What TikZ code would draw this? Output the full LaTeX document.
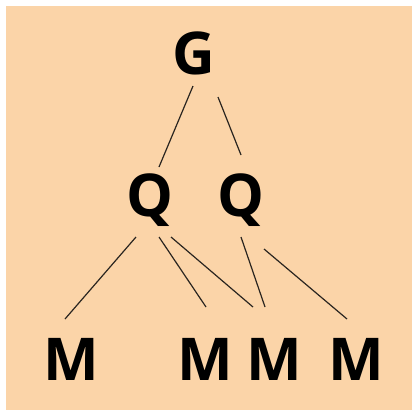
\documentclass[tikz,border=0pt]{standalone}
\usepackage{fontspec}
\setmainfont{Open Sans}
\definecolor{peach}{HTML}{FBD4A8}
\definecolor{linegray}{HTML}{2A2520}
\tikzset{
  letter/.style={anchor=base, inner sep=0pt, font=\fontsize{59}{59}\selectfont\bfseries},
  edge/.style={draw=linegray, line width=1.2pt}
}
\begin{document}
\begin{tikzpicture}[x=1pt, y=-1pt]
\useasboundingbox (0,0) rectangle (412,410);
\fill[peach] (6,6) rectangle (412,410);
\node[letter] (G) at (194,74) {G};
\node[letter] (Q1) at (150,216) {Q};
\node[letter] (Q2) at (241,216) {Q};
\node[letter] (M1) at (71,380) {M};
\node[letter] (M2) at (205,380) {M};
\node[letter] (M3) at (274,380) {M};
\node[letter] (M4) at (356,380) {M};
\draw[edge] ([shift={(-1,12)}]G.base) -- ([shift={(9,-49)}]Q1.base);
\draw[edge] ([shift={(24,23)}]G.base) -- ([shift={(0,-61)}]Q2.base);
\draw[edge] ([shift={(-14,21)}]Q1.base) -- ([shift={(-6,-61)}]M1.base);
\draw[edge] ([shift={(9,21)}]Q1.base) -- ([shift={(1,-73)}]M2.base);
\draw[edge] ([shift={(21,21)}]Q1.base) -- ([shift={(-21,-73)}]M3.base);
\draw[edge] ([shift={(0,21)}]Q2.base) -- ([shift={(-9,-73)}]M3.base);
\draw[edge] ([shift={(23,33)}]Q2.base) -- ([shift={(-9,-61)}]M4.base);
\end{tikzpicture}
\end{document}
